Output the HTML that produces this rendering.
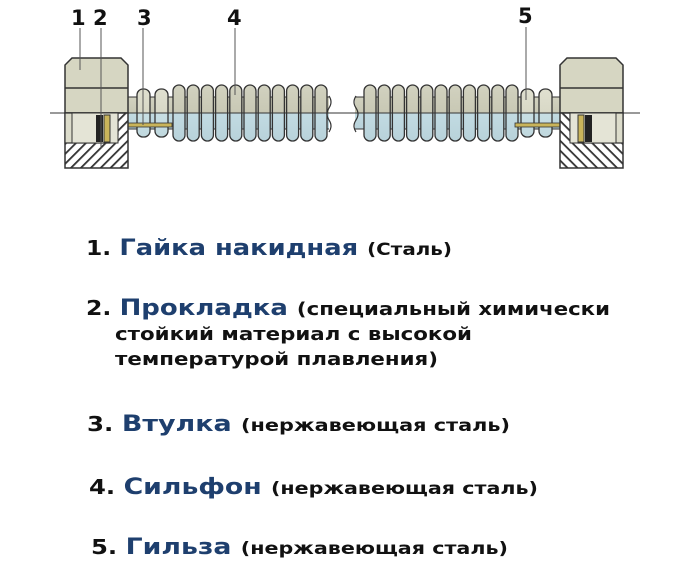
<!DOCTYPE html>
<html><head><meta charset="utf-8"><style>
html,body{margin:0;padding:0;background:#fff;}
svg{display:block}
.t{font-family:"DejaVu Sans","Liberation Sans",sans-serif;font-weight:bold}
</style></head><body>
<svg width="687" height="562" viewBox="0 0 687 562" xmlns="http://www.w3.org/2000/svg">
<defs>
<linearGradient id="rg" x1="0" y1="0" x2="0" y2="1">
<stop offset="0" stop-color="#d2d2c0"/><stop offset="0.5" stop-color="#c8c8b4"/><stop offset="0.5" stop-color="#c2dbe2"/><stop offset="1" stop-color="#b8d2da"/>
</linearGradient>
<linearGradient id="sg" x1="0" y1="0" x2="0" y2="1">
<stop offset="0" stop-color="#e0e0d0"/><stop offset="0.5" stop-color="#d8d8c6"/><stop offset="0.5" stop-color="#c8dfe4"/><stop offset="1" stop-color="#c0d8de"/>
</linearGradient>
<pattern id="h" width="7" height="7" patternUnits="userSpaceOnUse" patternTransform="rotate(45)">
<rect width="7" height="7" fill="#fff"/><rect width="1.8" height="7" fill="#333"/>
</pattern>
<rect id="rib" x="0" y="85" width="12" height="56" rx="6" fill="url(#rg)" stroke="#333" stroke-width="1.3"/>
<rect id="srib" x="0" y="89" width="13" height="48" rx="6" fill="url(#sg)" stroke="#333" stroke-width="1.3"/>
<g id="nut">
<path d="M72,58 H121 L128,65 V113 H65 V65 Z" fill="#d6d6c2" stroke="#333" stroke-width="1.5"/>
<line x1="65" y1="88" x2="128" y2="88" stroke="#333" stroke-width="1.5"/>
<rect x="65" y="113" width="63" height="55" fill="url(#h)" stroke="#333" stroke-width="1.5"/>
<path d="M65,113 H118 L118,135 L110,143 H65 Z" fill="#dcdccb" stroke="#333" stroke-width="1.2"/>
<rect x="72" y="113" width="46" height="30" fill="#e4e4d6" stroke="#333" stroke-width="1"/>
<rect x="96" y="115" width="7" height="27" fill="#222"/>
<rect x="104" y="115" width="6" height="27" fill="#c9b45a" stroke="#333" stroke-width="1"/>
</g>
</defs>
<rect x="125" y="97" width="212" height="32" fill="url(#rg)" stroke="#333" stroke-width="1"/>
<rect x="352" y="97" width="212" height="32" fill="url(#rg)" stroke="#333" stroke-width="1"/>
<use href="#srib" x="137"/><use href="#srib" x="155"/>
<use href="#rib" x="173"/><use href="#rib" x="187.2"/><use href="#rib" x="201.4"/><use href="#rib" x="215.6"/><use href="#rib" x="229.8"/><use href="#rib" x="244"/><use href="#rib" x="258.2"/><use href="#rib" x="272.4"/><use href="#rib" x="286.6"/><use href="#rib" x="300.8"/><use href="#rib" x="315"/>
<use href="#rib" x="364"/><use href="#rib" x="378.2"/><use href="#rib" x="392.4"/><use href="#rib" x="406.6"/><use href="#rib" x="420.8"/><use href="#rib" x="435"/><use href="#rib" x="449.2"/><use href="#rib" x="463.4"/><use href="#rib" x="477.6"/><use href="#rib" x="491.8"/><use href="#rib" x="506"/>
<use href="#srib" x="521"/><use href="#srib" x="539"/>
<rect x="329" y="92" width="10" height="42" fill="#fff"/>
<rect x="345" y="92" width="10" height="42" fill="#fff"/>
<path d="M329,96 q4,6 0,12 q-4,6 0,12 q4,6 0,12" fill="none" stroke="#333" stroke-width="1.2"/>
<path d="M356,96 q-4,6 0,12 q4,6 0,12 q-4,6 0,12" fill="none" stroke="#333" stroke-width="1.2"/>
<rect x="110" y="123" width="62" height="4" fill="#c9b45a" stroke="#333" stroke-width="0.8"/>
<rect x="515" y="123" width="62" height="4" fill="#c9b45a" stroke="#333" stroke-width="0.8"/>
<use href="#nut"/>
<use href="#nut" transform="translate(688,0) scale(-1,1)"/>
<line x1="50" y1="113" x2="640" y2="113" stroke="#333" stroke-width="1"/>
<g class="t" font-size="21" fill="#111">
<text x="71" y="25">1</text><text x="93" y="25">2</text><text x="137" y="25">3</text><text x="227" y="25">4</text><text x="518" y="23">5</text>
</g>
<g stroke="#555" stroke-width="1">
<line x1="80" y1="28" x2="80" y2="70"/><line x1="101" y1="28" x2="101" y2="148"/><line x1="143" y1="28" x2="143" y2="125"/><line x1="235" y1="28" x2="235" y2="95"/><line x1="526" y1="27" x2="526" y2="100"/>
</g>
<g class="t">
<text x="86" y="255" font-size="20" textLength="366" lengthAdjust="spacingAndGlyphs"><tspan fill="#111">1. </tspan><tspan fill="#1e3f6e" font-size="22">Гайка накидная </tspan><tspan fill="#111" font-size="17">(Сталь)</tspan></text>
<text x="86" y="315" font-size="20" textLength="524" lengthAdjust="spacingAndGlyphs"><tspan fill="#111">2. </tspan><tspan fill="#1e3f6e" font-size="22">Прокладка </tspan><tspan fill="#111" font-size="18">(специальный химически</tspan></text>
<text x="115" y="340" font-size="18" fill="#111" textLength="357" lengthAdjust="spacingAndGlyphs">стойкий материал с высокой</text>
<text x="115" y="365" font-size="18" fill="#111" textLength="323" lengthAdjust="spacingAndGlyphs">температурой плавления)</text>
<text x="87" y="431" font-size="20" textLength="423" lengthAdjust="spacingAndGlyphs"><tspan fill="#111">3. </tspan><tspan fill="#1e3f6e" font-size="22">Втулка </tspan><tspan fill="#111" font-size="17">(нержавеющая сталь)</tspan></text>
<text x="89" y="494" font-size="20" textLength="449" lengthAdjust="spacingAndGlyphs"><tspan fill="#111">4. </tspan><tspan fill="#1e3f6e" font-size="22">Сильфон </tspan><tspan fill="#111" font-size="17">(нержавеющая сталь)</tspan></text>
<text x="91" y="554" font-size="20" textLength="417" lengthAdjust="spacingAndGlyphs"><tspan fill="#111">5. </tspan><tspan fill="#1e3f6e" font-size="22">Гильза </tspan><tspan fill="#111" font-size="17">(нержавеющая сталь)</tspan></text>
</g>
</svg>
</body></html>
